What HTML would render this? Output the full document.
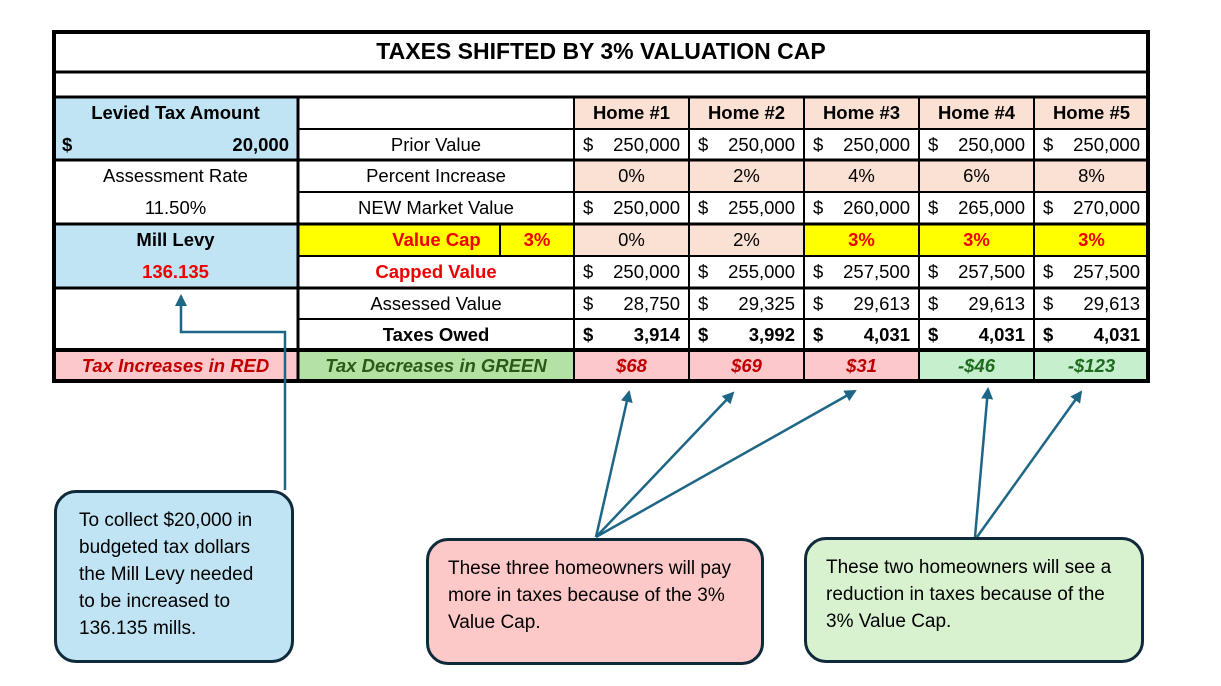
<!DOCTYPE html>
<html><head><meta charset="utf-8"><style>
body{margin:0;width:1221px;height:686px;background:#fff;position:relative;overflow:hidden;font-family:"Liberation Sans",sans-serif;}
.c{position:absolute;box-sizing:border-box;display:flex;align-items:center;justify-content:center;font-size:18.5px;color:#000;white-space:nowrap}
.b{font-weight:bold}
.r{color:#ee0000}
.m{justify-content:space-between;padding:0 9px}
.box{position:absolute;box-sizing:border-box;border:3px solid #0f2a3a;border-radius:22px;font-size:19px;line-height:27px;color:#000;white-space:nowrap}
</style></head><body>
<div class="c b" style="left:53px;top:31px;width:1096px;height:41px;font-size:23px">TAXES SHIFTED BY 3% VALUATION CAP</div>
<div class="c b" style="left:53px;top:97px;width:245px;height:32px;background:#c0e4f4">Levied Tax Amount</div>
<div class="c b m" style="left:53px;top:129px;width:245px;height:31px;background:#c0e4f4"><span>$</span><span>20,000</span></div>
<div class="c" style="left:53px;top:160px;width:245px;height:32px">Assessment Rate</div>
<div class="c" style="left:53px;top:192px;width:245px;height:32px">11.50%</div>
<div class="c b" style="left:53px;top:224px;width:245px;height:32px;background:#c0e4f4">Mill Levy</div>
<div class="c b r" style="left:53px;top:256px;width:245px;height:32px;background:#c0e4f4">136.135</div>
<div class="c b" style="left:53px;top:350px;width:245px;height:31px;background:#fdc8cc;color:#c00000;font-style:italic">Tax Increases in RED</div>
<div class="c" style="left:298px;top:129px;width:276px;height:31px">Prior Value</div>
<div class="c" style="left:298px;top:160px;width:276px;height:32px">Percent Increase</div>
<div class="c" style="left:298px;top:192px;width:276px;height:32px">NEW Market Value</div>
<div class="c b r" style="left:298px;top:224px;width:202px;height:32px;background:#ffff00;padding-left:75px">Value Cap</div>
<div class="c b r" style="left:500px;top:224px;width:74px;height:32px;background:#ffff00">3%</div>
<div class="c b r" style="left:298px;top:256px;width:276px;height:32px">Capped Value</div>
<div class="c" style="left:298px;top:288px;width:276px;height:31px">Assessed Value</div>
<div class="c b" style="left:298px;top:319px;width:276px;height:31px">Taxes Owed</div>
<div class="c b" style="left:298px;top:350px;width:276px;height:31px;background:#b4e2a4;color:#2a5a1a;font-style:italic">Tax Decreases in GREEN</div>
<div id="homes"></div>
<script>
var xs=[574,689,804,919,1034],h='';
var prior='250,000',nv=['250,000','255,000','260,000','265,000','270,000'],pc=['0%','2%','4%','6%','8%'],cap=['0%','2%','3%','3%','3%'],cv=['250,000','255,000','257,500','257,500','257,500'],av=['28,750','29,325','29,613','29,613','29,613'],to=['3,914','3,992','4,031','4,031','4,031'],d=['$68','$69','$31','-$46','-$123'];
function cell(x,y,hh,bg,cls,inner){return '<div class="c '+cls+'" style="left:'+x+'px;top:'+y+'px;width:115px;height:'+hh+'px;background:'+bg+'">'+inner+'</div>';}
for(var i=0;i<5;i++){var x=xs[i];
h+=cell(x,97,32,'#fbe0d4','b','Home #'+(i+1));
h+=cell(x,129,31,'#fff','m','<span>$</span><span>'+prior+'</span>');
h+=cell(x,160,32,'#fbe0d4','',pc[i]);
h+=cell(x,192,32,'#fff','m','<span>$</span><span>'+nv[i]+'</span>');
h+=i<2?cell(x,224,32,'#fbe0d4','',cap[i]):cell(x,224,32,'#ffff00','b r',cap[i]);
h+=cell(x,256,32,'#fff','m','<span>$</span><span>'+cv[i]+'</span>');
h+=cell(x,288,31,'#fff','m','<span>$</span><span>'+av[i]+'</span>');
h+=cell(x,319,31,'#fff','m b','<span>$</span><span>'+to[i]+'</span>');
h+=i<3?cell(x,350,31,'#fdc8cc','b','<i style="color:#c00000">'+d[i]+'</i>'):cell(x,350,31,'#c6efce','b','<i style="color:#1e6b1e">'+d[i]+'</i>');}
document.getElementById('homes').outerHTML=h;
</script>
<svg width="1221" height="686" style="position:absolute;left:0;top:0" xmlns="http://www.w3.org/2000/svg">
<g stroke="#000" stroke-width="2">
<line x1="53" y1="72" x2="1149" y2="72" stroke-width="3"/>
<line x1="53" y1="97" x2="1149" y2="97" stroke-width="3"/>
<line x1="298" y1="129" x2="1149" y2="129"/>
<line x1="53" y1="160" x2="1149" y2="160" stroke-width="3"/>
<line x1="298" y1="192" x2="1149" y2="192"/>
<line x1="53" y1="224" x2="1149" y2="224" stroke-width="3"/>
<line x1="298" y1="256" x2="1149" y2="256"/>
<line x1="53" y1="288" x2="1149" y2="288" stroke-width="3"/>
<line x1="298" y1="319" x2="1149" y2="319"/>
<line x1="53" y1="350" x2="1149" y2="350" stroke-width="4"/>
<line x1="298" y1="97" x2="298" y2="381" stroke-width="3"/>
<line x1="574" y1="97" x2="574" y2="381"/>
<line x1="689" y1="97" x2="689" y2="381"/>
<line x1="804" y1="97" x2="804" y2="381"/>
<line x1="919" y1="97" x2="919" y2="381"/>
<line x1="1034" y1="97" x2="1034" y2="381"/>
<line x1="500" y1="224" x2="500" y2="256"/>
<rect x="54" y="32" width="1094" height="349" fill="none" stroke-width="4"/>
</g>
<defs><marker id="a2" markerWidth="12" markerHeight="12" refX="10" refY="6" orient="auto" markerUnits="userSpaceOnUse"><path d="M0,0L12,6L0,12z" fill="#1e6685"/></marker></defs>
<g stroke="#1e6685" stroke-width="2.5" fill="none">
<polyline points="285,490 285,332 181,332 181,296" marker-end="url(#a2)"/>
<line x1="596" y1="537" x2="629" y2="392" marker-end="url(#a2)"/>
<line x1="596" y1="537" x2="733" y2="393" marker-end="url(#a2)"/>
<line x1="596" y1="537" x2="855" y2="391" marker-end="url(#a2)"/>
<line x1="975" y1="537" x2="988" y2="389" marker-end="url(#a2)"/>
<line x1="977" y1="537" x2="1081" y2="392" marker-end="url(#a2)"/>
</g>
</svg>
<div class="box" style="left:54px;top:490px;width:240px;height:173px;background:#c0e4f4;padding:14px 0 0 22px">To collect $20,000 in<br>budgeted tax dollars<br>the Mill Levy needed<br>to be increased to<br>136.135 mills.</div>
<div class="box" style="left:426px;top:538px;width:338px;height:127px;background:#fdc8c8;padding:14px 0 0 19px">These three homeowners will pay<br>more in taxes because of the 3%<br>Value Cap.</div>
<div class="box" style="left:804px;top:537px;width:340px;height:126px;background:#d8f2d0;padding:14px 0 0 19px">These two homeowners will see a<br>reduction in taxes because of the<br>3% Value Cap.</div>
</body></html>
